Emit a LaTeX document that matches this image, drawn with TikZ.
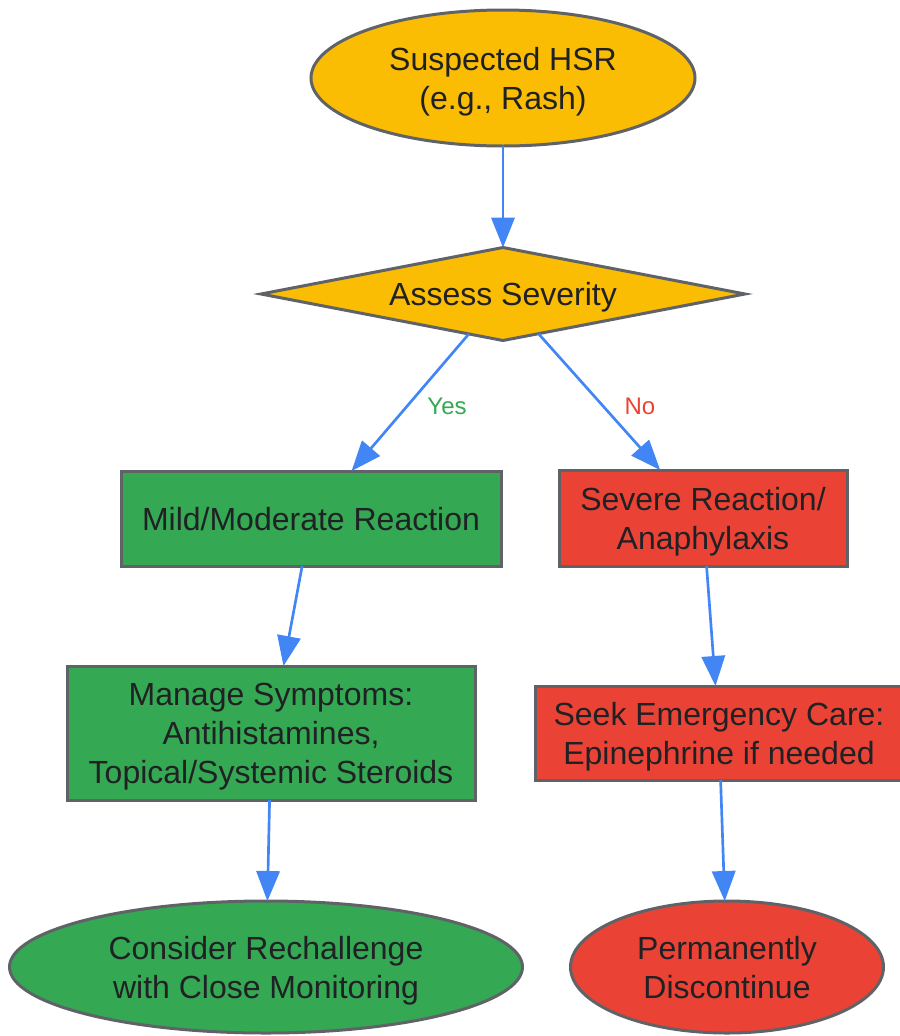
\documentclass[tikz,border=0pt]{standalone}
\usepackage{fontspec}
\setmainfont{Liberation Sans}
\usetikzlibrary{shapes.geometric,arrows.meta}
\definecolor{cyellow}{HTML}{FBBC04}
\definecolor{cgreen}{HTML}{34A853}
\definecolor{cred}{HTML}{EA4335}
\definecolor{cborder}{HTML}{5F6368}
\definecolor{carrow}{HTML}{4285F4}
\definecolor{ctext}{HTML}{202124}
\tikzset{
  box/.style={draw=cborder, line width=2.25pt, inner sep=0pt, outer sep=0pt, align=center,
    text=ctext, font=\fontsize{24}{29.25}\selectfont, text depth=-1pt},
  ybox/.style={box, fill=cyellow},
  gbox/.style={box, fill=cgreen},
  rbox/.style={box, fill=cred},
  arr/.style={draw=carrow, line width=2pt, -{Triangle[length=22.5pt,width=17.5pt]}},
  lbl/.style={font=\fontsize{18}{22}\selectfont, inner sep=0pt}
}
\begin{document}
\begin{tikzpicture}[x=0.75pt,y=-0.75pt]
\useasboundingbox (0,0) rectangle (900,1036);
\node[ybox, ellipse, minimum width=384*0.75pt, minimum height=136*0.75pt] (top) at (503,78) {Suspected HSR\\(e.g., Rash)};
\node[ybox, diamond, shape aspect=5.2, minimum width=484*0.75pt, minimum height=93*0.75pt] (dia) at (503,294) {Assess Severity};
\node[gbox, rectangle, minimum width=380*0.75pt, minimum height=95*0.75pt] (mild) at (311,518.5) {Mild/Moderate Reaction};
\node[rbox, rectangle, minimum width=288*0.75pt, minimum height=96*0.75pt] (severe) at (703,518) {Severe Reaction/\\Anaphylaxis};
\node[gbox, rectangle, minimum width=408*0.75pt, minimum height=134*0.75pt] (manage) at (271,733) {Manage Symptoms:\\Antihistamines,\\Topical/Systemic Steroids};
\node[rbox, rectangle, minimum width=368*0.75pt, minimum height=94*0.75pt] (seek) at (719,733) {Seek Emergency Care:\\Epinephrine if needed};
\node[gbox, ellipse, minimum width=513*0.75pt, minimum height=132*0.75pt] (consider) at (266,967) {Consider Rechallenge\\with Close Monitoring};
\node[rbox, ellipse, minimum width=313*0.75pt, minimum height=132*0.75pt] (perm) at (727,967) {Permanently\\Discontinue};
\draw[arr] (top) -- (dia);
\draw[arr] (dia) -- (mild);
\draw[arr] (dia) -- (severe);
\draw[arr] (mild) -- (manage);
\draw[arr] (severe) -- (seek);
\draw[arr] (manage) -- (consider);
\draw[arr] (seek) -- (perm);
\node[lbl, text=cgreen] (yes) at (447,406) {Yes};
\node[lbl, text=cred] (no) at (640,406) {No};
\end{tikzpicture}
\end{document}
